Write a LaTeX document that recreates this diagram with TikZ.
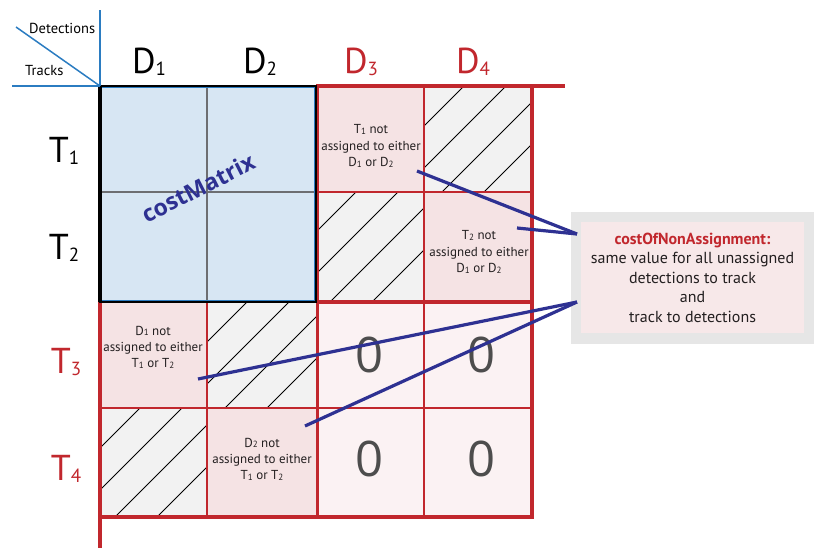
\documentclass[tikz,border=0pt]{standalone}
\usepackage{fontspec}
\setmainfont{PT Sans}
\newfontfamily\osans{Open Sans}
\definecolor{redc}{HTML}{C1272D}
\definecolor{pinkc}{HTML}{F5E3E4}
\definecolor{zeroc}{HTML}{FBF2F3}
\definecolor{hatchc}{HTML}{F2F2F2}
\definecolor{bluefill}{HTML}{D7E6F3}
\definecolor{hdrblue}{HTML}{2B7CC1}
\definecolor{connblue}{HTML}{2E3192}
\definecolor{gridgray}{HTML}{6D6E71}
\definecolor{txtc}{HTML}{231F20}
\definecolor{zerotxt}{HTML}{4D4D4D}
\definecolor{calloutgray}{HTML}{E6E6E6}
\definecolor{calloutpink}{HTML}{F7E8E9}
\newcommand\lsub[1]{\raisebox{-0.6pt}{\fontsize{9}{9}\selectfont #1}}
\newcommand\bsub[1]{\raisebox{-2.5pt}{\fontsize{19}{19}\selectfont #1}}
\tikzset{
  hdrline/.style={draw=hdrblue, line width=1.5pt},
  thinred/.style={draw=redc, line width=1.3pt},
  midred/.style={draw=redc, line width=2pt},
  thickred/.style={draw=redc, line width=3.2pt},
  hatchline/.style={draw=black, line width=0.8pt},
  conn/.style={draw=connblue, line width=3.2pt},
  bigblack/.style={font=\fontsize{36}{36}\selectfont, text=black, anchor=base, inner sep=0pt},
  bigred/.style={font=\fontsize{36}{36}\selectfont, text=redc, anchor=base, inner sep=0pt},
  celltext/.style={font=\fontsize{13}{16.3}\selectfont, text=txtc, align=center, inner sep=0pt},
  zerotext/.style={font=\osans\fontsize{49}{49}\selectfont, text=zerotxt, inner sep=0pt},
  smallhdr/.style={font=\fontsize{14.5}{14.5}\selectfont, text=black, inner sep=0pt},
}
\begin{document}
\begin{tikzpicture}[x=1pt,y=-1pt]
\path[use as bounding box] (0,0) rectangle (822,555);
% fills
\fill[bluefill] (100,86) rectangle (316,302);
\fill[pinkc] (316,86) rectangle (424,192);
\fill[pinkc] (424,192) rectangle (532,302);
\fill[pinkc] (100,302) rectangle (207,408);
\fill[pinkc] (207,408) rectangle (316,517);
\fill[zeroc] (316,302) rectangle (532,517);
\foreach \xa/\ya/\xb/\yb in {424/86/532/192, 316/192/424/302, 207/302/316/408, 100/408/207/517} {
  \fill[hatchc] (\xa,\ya) rectangle (\xb,\yb);
  \begin{scope}
    \clip (\xa,\ya) rectangle (\xb,\yb);
    \foreach \o in {40,82,124,166}
      \draw[hatchline] (\xa,\ya+\o) -- ++(\o,-\o);
  \end{scope}
}
% costMatrix inner grid
\draw[gridgray, line width=1.3pt] (207,86) -- (207,302);
\draw[gridgray, line width=1.3pt] (100,192) -- (316,192);
% red grid
\draw[thinred] (424,86) -- (424,517);
\draw[midred] (316,192) -- (532,192);
\draw[thinred] (207,302) -- (207,517);
\draw[thinred] (100,408) -- (532,408);
\draw[midred] (100,302) -- (316,302);
\draw[thickred] (316,302) -- (532,302);
\draw[thickred] (316,86) -- (565,86);
\draw[thickred] (532,84.4) -- (532,518.6);
\draw[thickred] (317.5,86) -- (317.5,518.6);
\draw[thickred] (100,517) -- (533.6,517);
\draw[thickred] (100,301) -- (100,548);
% costMatrix border
\draw[black, line width=1.3pt] (100,86) rectangle (316,302);
\draw[hdrblue, line width=0.9pt] (101.6,87.6) rectangle (314.4,300.4);
\draw[black, line width=3.2pt] (100,86) -- (100,302);
% header lines
\draw[hdrline] (100,10) -- (100,86);
\draw[hdrline] (12,86) -- (100,86);
\draw[hdrline] (16,27) -- (100,86);
\node[smallhdr, anchor=base west] (hdet) at (29,33) {Detections};
\node[smallhdr, anchor=base west] (htrk) at (25,75) {Tracks};
% column and row labels
\node[bigblack] (d1) at (149,73) {D\bsub{1}};
\node[bigblack] (d2) at (260,73) {D\bsub{2}};
\node[bigred] (d3) at (361,73) {D\bsub{3}};
\node[bigred] (d4) at (473,73) {D\bsub{4}};
\node[bigblack] (t1) at (64,162) {T\bsub{1}};
\node[bigblack] (t2) at (64,259) {T\bsub{2}};
\node[bigred] (t3) at (66,373) {T\bsub{3}};
\node[bigred] (t4) at (66,480) {T\bsub{4}};
% cell texts
\node[celltext] (c13) at (371,146) {T\lsub{1} not\\assigned to either\\D\lsub{1} or D\lsub{2}};
\node[celltext] (c24) at (479,252) {T\lsub{2} not\\assigned to either\\D\lsub{1} or D\lsub{2}};
\node[celltext] (c31) at (153,347) {D\lsub{1} not\\assigned to either\\T\lsub{1} or T\lsub{2}};
\node[celltext] (c42) at (262,459) {D\lsub{2}\ not\\assigned to either\\T\lsub{1} or T\lsub{2}};
% zeros
\node[zerotext] (z33) at (370,355) {0};
\node[zerotext] (z34) at (482,355) {0};
\node[zerotext] (z43) at (370,459) {0};
\node[zerotext] (z44) at (482,459) {0};
% costMatrix label
\node[font=\osans\bfseries\fontsize{23}{23}\selectfont, text=connblue, rotate=27, inner sep=0pt] (cm) at (198,188) {costMatrix};
% callout
\node[fill=calloutgray, minimum width=243pt, minimum height=132pt, inner sep=0pt] (callout) at (692.5,278) {};
\node[fill=calloutpink, minimum width=223pt, minimum height=111pt, inner sep=0pt] (calloutin) at (692.5,277.5) {};
\node[font=\fontsize{16}{19.5}\selectfont, text=txtc, align=center, inner sep=0pt] (callouttxt) at (692.5,277.5)
  {\textcolor{redc}{\bfseries costOfNonAssignment:}\\same value for all unassigned\\detections to track\\and\\track to detections};
% connectors
\coordinate (s1) at (417,171);
\coordinate (s2) at (517,228);
\coordinate (s3) at (198,379);
\coordinate (s4) at (305,426);
\coordinate (e1) at (577,234);
\coordinate (e2) at (577,302);
\draw[conn] (s1) -- (e1);
\draw[conn] (s2) -- (e1);
\draw[conn] (s3) -- (e2);
\draw[conn] (s4) -- (e2);
\end{tikzpicture}
\end{document}
